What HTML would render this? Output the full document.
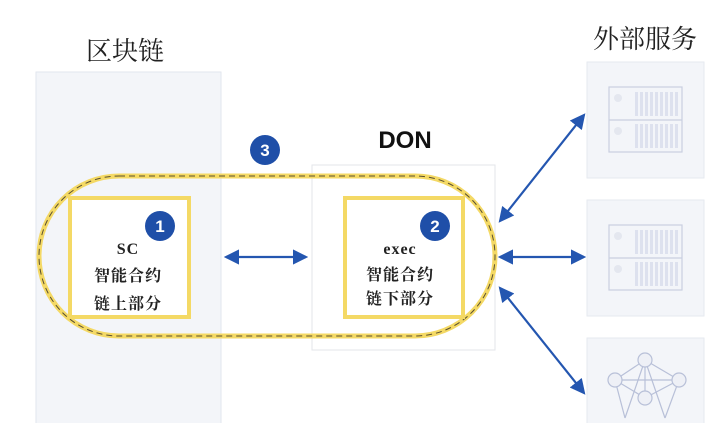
<!DOCTYPE html>
<html><head><meta charset="utf-8"><style>
body{margin:0;width:720px;height:423px;background:#fff;overflow:hidden;position:relative}
</style></head><body>
<svg width="720" height="423" xmlns="http://www.w3.org/2000/svg" style="position:absolute;left:0;top:0">
<defs>
<marker id="ah" markerWidth="7" markerHeight="7" refX="6" refY="3.5" orient="auto-start-reverse" markerUnits="strokeWidth">
<path d="M0,0 L7,3.5 L0,7 z" fill="#2456b0"/></marker>
<pattern id="st" width="5" height="10" patternUnits="userSpaceOnUse"><rect width="3" height="10" fill="#dde1ee"/></pattern>
</defs>
<rect x="36" y="72" width="185" height="360" fill="#f3f5f9" stroke="#e2e6ee"/>
<rect x="312" y="165" width="183" height="185" fill="#fff" stroke="#e3e5ea"/>
<rect x="587" y="62" width="117" height="116" fill="#f3f5f9" stroke="#e6e9ef"/>
<rect x="587" y="200" width="117" height="116" fill="#f3f5f9" stroke="#e6e9ef"/>
<rect x="587" y="338" width="117" height="100" fill="#f3f5f9" stroke="#e6e9ef"/>
<g fill="none" stroke="#c9cfe0" stroke-width="1.2">
<rect x="609" y="87" width="73" height="65"/><line x1="609" y1="120" x2="682" y2="120"/>
<rect x="609" y="225" width="73" height="65"/><line x1="609" y1="258" x2="682" y2="258"/>
<g stroke="#b8c0d8">
<line x1="645" y1="360" x2="615" y2="380"/><line x1="645" y1="360" x2="679" y2="380"/><line x1="615" y1="380" x2="679" y2="380"/>
<line x1="645" y1="360" x2="645" y2="398"/><line x1="615" y1="380" x2="645" y2="398"/><line x1="679" y1="380" x2="645" y2="398"/>
<line x1="615" y1="380" x2="625" y2="418"/><line x1="679" y1="380" x2="665" y2="418"/><line x1="645" y1="360" x2="625" y2="418"/><line x1="645" y1="360" x2="665" y2="418"/>
<circle cx="645" cy="360" r="7" fill="#eef0f6"/><circle cx="615" cy="380" r="7" fill="#eef0f6"/><circle cx="679" cy="380" r="7" fill="#eef0f6"/><circle cx="645" cy="398" r="7" fill="#eef0f6"/>
</g>
</g>
<g fill="url(#st)"><rect x="633" y="92" width="45" height="24"/><rect x="633" y="124" width="45" height="24"/><rect x="633" y="230" width="45" height="24"/><rect x="633" y="262" width="45" height="24"/></g>
<g fill="#e4e7ef"><circle cx="618" cy="98" r="4"/><circle cx="618" cy="131" r="4"/><circle cx="618" cy="236" r="4"/><circle cx="618" cy="269" r="4"/></g>
<rect x="39" y="176" width="456" height="160" rx="80" fill="none" stroke="#f4d965" stroke-width="5"/>
<rect x="39" y="176" width="456" height="160" rx="80" fill="none" stroke="#5a5030" stroke-width="1" stroke-dasharray="6,4"/>
<rect x="70" y="198" width="119" height="119" fill="#fff" stroke="#f4d965" stroke-width="4"/>
<rect x="345" y="198" width="118" height="119" fill="#fff" stroke="#f4d965" stroke-width="4"/>
<g fill="#1f4fa8"><circle cx="160" cy="226" r="15"/><circle cx="435" cy="226" r="15"/><circle cx="265" cy="150" r="15"/></g>
<g fill="#fff" font-family="Liberation Sans,sans-serif" font-weight="bold" font-size="17" text-anchor="middle">
<text x="160" y="232">1</text><text x="435" y="232">2</text><text x="265" y="156">3</text></g>
<g stroke="#2456b0" stroke-width="2.2" fill="none">
<line x1="226" y1="257" x2="306" y2="257" marker-start="url(#ah)" marker-end="url(#ah)"/>
<line x1="500" y1="221" x2="584" y2="115" marker-start="url(#ah)" marker-end="url(#ah)"/>
<line x1="500" y1="257" x2="584" y2="257" marker-start="url(#ah)" marker-end="url(#ah)"/>
<line x1="500" y1="288" x2="584" y2="393" marker-start="url(#ah)" marker-end="url(#ah)"/>
</g>
<g font-family="Liberation Serif,'Noto Serif CJK SC',serif" fill="#222" text-anchor="middle">
<text x="125" y="60" font-size="26">区块链</text>
<text x="645" y="48" font-size="26">外部服务</text>
<g font-weight="bold" letter-spacing="1">
<text x="128" y="254" font-size="16">SC</text>
<text x="128" y="281" font-size="16">智能合约</text>
<text x="128" y="309" font-size="16">链上部分</text>
<text x="400" y="254" font-size="16">exec</text>
<text x="400" y="280" font-size="16">智能合约</text>
<text x="400" y="304" font-size="16">链下部分</text>
</g>
</g>
<text x="405" y="148" font-family="Liberation Sans,sans-serif" font-weight="bold" font-size="24" fill="#111" text-anchor="middle">DON</text>
</svg>
</body></html>
